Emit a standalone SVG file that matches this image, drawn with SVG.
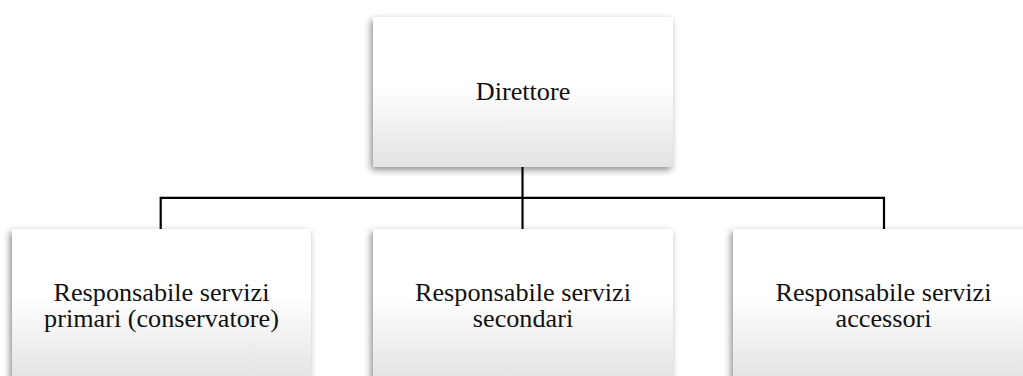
<svg xmlns="http://www.w3.org/2000/svg" width="1023" height="376" viewBox="0 0 1023 376">
  <defs>
    <linearGradient id="boxGrad" x1="0" y1="0" x2="0" y2="1">
      <stop offset="0" stop-color="#ffffff"/>
      <stop offset="0.45" stop-color="#ffffff"/>
      <stop offset="1" stop-color="#e3e3e3"/>
    </linearGradient>
    <filter id="shadow" x="-10%" y="-10%" width="120%" height="125%">
      <feDropShadow dx="-2" dy="3" stdDeviation="3.5" flood-color="#000000" flood-opacity="0.45"/>
    </filter>
  </defs>
  <style>
    .box { fill: url(#boxGrad); filter: url(#shadow); }
    .conn { stroke: #000000; stroke-width: 2.2; fill: none; }
    .lbl { font-family: 'Liberation Serif', 'Times New Roman', Times, 'DejaVu Serif', serif; font-size: 26.2px; fill: #111111; text-anchor: middle; }
  </style>
  <rect width="1023" height="376" fill="#ffffff"/>
  <g id="connectors">
    <path class="conn" d="M522.5,167 V229"/>
    <path class="conn" d="M160.7,229 V197.8 H884 V229"/>
  </g>
  <g id="direttore">
    <rect class="box" x="373" y="17" width="300" height="150"/>
    <text class="lbl" x="523" y="99.5">Direttore</text>
  </g>
  <g id="primari">
    <rect class="box" x="12" y="229" width="299" height="150"/>
    <text class="lbl" x="161.5" y="300.8">Responsabile servizi</text>
    <text class="lbl" x="161.5" y="327">primari (conservatore)</text>
  </g>
  <g id="secondari">
    <rect class="box" x="373" y="229" width="300" height="150"/>
    <text class="lbl" x="523" y="300.8">Responsabile servizi</text>
    <text class="lbl" x="523" y="327">secondari</text>
  </g>
  <g id="accessori">
    <rect class="box" x="733" y="229" width="300" height="150"/>
    <text class="lbl" x="883.5" y="300.8">Responsabile servizi</text>
    <text class="lbl" x="883.5" y="327">accessori</text>
  </g>
</svg>
